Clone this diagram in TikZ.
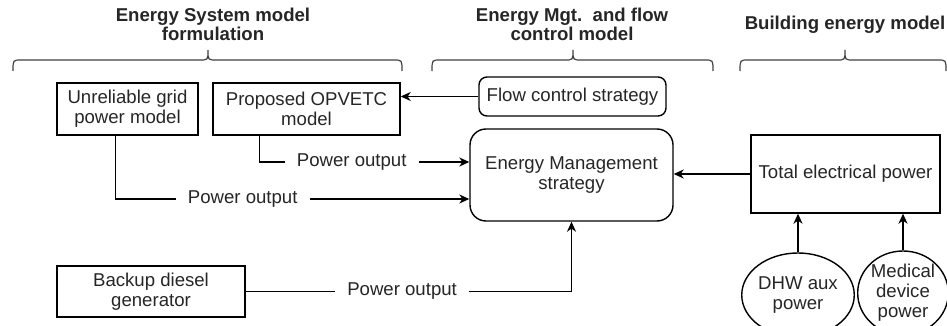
\documentclass[tikz,border=0pt]{standalone}
\usepackage{fontspec}
\setmainfont{Liberation Sans}
\usetikzlibrary{arrows.meta,calc,shapes.geometric}

\tikzset{
  txt/.style={font=\fontsize{9.3}{10}\selectfont, text=black!85, align=center},
  box/.style={txt, draw, line width=0.7pt, inner sep=0pt},
  rbox/.style={box, rounded corners=4pt},
  bubble/.style={txt, draw, ellipse, line width=0.7pt, inner sep=0pt},
  head/.style={txt, font=\fontsize{9.3}{9.6}\selectfont\bfseries},
  lbl/.style={txt, fill=white, inner xsep=6pt, inner ysep=1pt},
  brace/.style={line width=0.6pt, black!75},
}

\begin{document}
\begin{tikzpicture}[x=0.5pt, y=-0.5pt, >={Stealth[length=5pt,width=4.5pt,inset=1.5pt]}, line width=0.7pt]
    \useasboundingbox (0,0) rectangle (947,326);

    % section headings
    \node[head] (sys) at (213,24) {Energy System model\\formulation};
    \node[head] (mgt) at (572,24) {Energy Mgt.\ \ and flow\\control model};
    \node[head] (bld) at (845,25) {Building energy model};

    % braces below the headings
    \foreach \a/\m/\b in {13/208/402, 432/573/713, 740/845/946}
        \draw[brace] (\a,71) .. controls (\a,60) .. (\a+8,60) -- (\m-8,60)
            .. controls (\m,60) .. (\m,50) .. controls (\m,60) .. (\m+8,60)
            -- (\b-8,60) .. controls (\b,60) .. (\b,71);

    % energy system models
    \node[box, minimum width=70.5pt, minimum height=26pt] (grid) at (127.5,109) {Unreliable grid\\power model};
    \node[box, minimum width=93.5pt, minimum height=26pt] (opv) at (306.5,109) {Proposed OPVETC\\model};
    \node[box, minimum width=94pt, minimum height=25.5pt] (diesel) at (151,291.5) {Backup diesel\\generator};

    % management and flow control
    \node[rbox, minimum width=93.5pt, minimum height=19.5pt] (flow) at (572.5,96.5) {Flow control strategy};
    \node[rbox, rounded corners=8pt, minimum width=101.5pt, minimum height=46pt] (ems) at (571.5,175) {Energy Management\\strategy};

    % building loads
    \node[box, minimum width=94.5pt, minimum height=39pt] (tep) at (845.5,174) {Total electrical power};
    \node[bubble, minimum width=48.5pt, minimum height=42pt] (dhw) at (798,295) {DHW aux\\power};
    \node[bubble, minimum width=45pt, minimum height=42pt] (med) at (903,293) {Medical\\device\\power};

    % connectors
    \draw[->] (flow.west) -- (flow.west -| opv.east);
    \draw[->] ($(opv.south west)+(47,0)$) |- node[lbl, pos=0.72] {Power output} ([yshift=6.5pt]ems.west);
    \draw[->] ($(grid.south west)+(59,0)$) |- node[lbl, pos=0.68] {Power output} ([yshift=-12pt]ems.west);
    \draw[->] (diesel.east) -| node[lbl, pos=0.24] {Power output} (ems.south);
    \draw[->] (tep.west) -- (tep.west -| ems.east);
    \draw[->] (dhw) -- (dhw |- tep.south);
    \draw[->] (med) -- (med |- tep.south);

\end{tikzpicture}
\end{document}
